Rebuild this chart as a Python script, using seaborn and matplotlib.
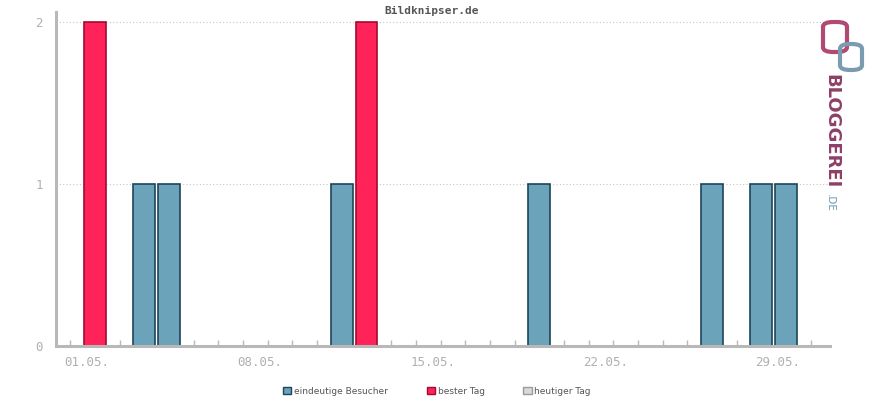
import matplotlib
matplotlib.use("Agg")
import matplotlib.pyplot as plt
import matplotlib.transforms as mtransforms
from matplotlib.patches import Patch, FancyBboxPatch
import seaborn as sns
import pandas as pd

# Daten (Mai)
tage = [1, 3, 4, 11, 12, 19, 26, 28, 29]
besucher = [2, 1, 1, 1, 2, 1, 1, 1, 1]
reihe = ["bester Tag", "eindeutige Besucher", "eindeutige Besucher", "eindeutige Besucher",
         "bester Tag", "eindeutige Besucher", "eindeutige Besucher", "eindeutige Besucher",
         "eindeutige Besucher"]
tick_tage = [1, 8, 15, 22, 29]
tick_labels = ["01.05.", "08.05.", "15.05.", "22.05.", "29.05."]
legende = ["eindeutige Besucher", "bester Tag", "heutiger Tag"]

farben = {"eindeutige Besucher": "#6aa3ba", "bester Tag": "#ff2359", "heutiger Tag": "#d9d9d9"}
kanten = {"eindeutige Besucher": "#1d4559", "bester Tag": "#a30a2e", "heutiger Tag": "#9a9a9a"}

df = pd.DataFrame({"Tag": tage, "Besucher": besucher, "Reihe": reihe})

sns.set_style("white")
plt.rcParams["font.family"] = ["DejaVu Sans Mono", "DejaVu Sans"]

fig = plt.figure(figsize=(8.7, 4), dpi=100)
ax = fig.add_axes([56 / 870, 54 / 400, (830 - 56) / 870, (346 - 12) / 400])

sns.barplot(data=df, x="Tag", y="Besucher", hue="Reihe", palette=farben,
            native_scale=True, dodge=False, width=0.89, ax=ax, legend=False,
            saturation=1)
for bar in ax.patches:
    fc = matplotlib.colors.to_hex(bar.get_facecolor())
    for name, col in farben.items():
        if fc == col:
            bar.set_edgecolor(kanten[name])
    bar.set_linewidth(1.2)

ax.set_xlim(-0.58, 30.78)
ax.set_ylim(0, 2.06)
ax.set_xlabel("")
ax.set_ylabel("")

for s in ["top", "right"]:
    ax.spines[s].set_visible(False)
for s in ["left", "bottom"]:
    ax.spines[s].set_color("#b8b8b8")
    ax.spines[s].set_linewidth(2.2)

ax.set_yticks([0, 1, 2])
ax.set_yticklabels(["0", "1", "2"])
for y in [1, 2]:
    ax.axhline(y, color="#c4c4c4", linestyle=(0, (1, 2)), linewidth=0.8, zorder=0)

ax.set_xticks(tick_tage)
ax.set_xticklabels(tick_labels)
ax.set_xticks(range(0, 31), minor=True)
ax.tick_params(bottom=True, which="both")
ax.tick_params(axis="x", which="minor", direction="in", length=4.5, color="#b8b8b8", width=1)
ax.tick_params(axis="x", which="major", direction="in", length=4.5, color="#b8b8b8", width=1,
               labelsize=9, labelcolor="#b0b0b0", pad=7)
ax.tick_params(axis="y", which="major", left=False, labelsize=9, labelcolor="#b0b0b0", pad=6)
verschiebung = mtransforms.ScaledTranslation(-8 / 100, 0, fig.dpi_scale_trans)
for lbl in ax.get_xticklabels():
    lbl.set_transform(lbl.get_transform() + verschiebung)

fig.text(432 / 870, 1 - 11 / 400, "Bildknipser.de", ha="center", va="center",
         fontsize=8, fontweight="bold", color="#555555")

# Logo rechts
fig.patches.append(FancyBboxPatch((823 / 870, 1 - 52 / 400), 24 / 870, 30 / 400,
                                  boxstyle="round,pad=0,rounding_size=0.012",
                                  transform=fig.transFigure, fill=False,
                                  edgecolor="#b04a72", linewidth=3))
fig.patches.append(FancyBboxPatch((840 / 870, 1 - 70 / 400), 22 / 870, 26 / 400,
                                  boxstyle="round,pad=0,rounding_size=0.012",
                                  transform=fig.transFigure, fill=False,
                                  edgecolor="#7a9bb0", linewidth=3))
fig.text(831 / 870, 1 - 131 / 400, "BLOGGEREI", rotation=-90, ha="center", va="center",
         fontsize=13, fontweight="bold", color="#8e3f66", family=["DejaVu Sans"])
fig.text(830 / 870, 1 - 203 / 400, ".DE", rotation=-90, ha="center", va="center",
         fontsize=7.5, color="#6a9ab5", family=["DejaVu Sans"])

handles = [Patch(facecolor=farben[n], edgecolor=kanten[n], label=n) for n in legende]
fig.legend(handles=handles, loc="center", bbox_to_anchor=(437 / 870, 1 - 391 / 400),
           ncol=3, frameon=False, handlelength=0.9, handleheight=0.9, columnspacing=4.3,
           handletextpad=0.3, prop={"family": "DejaVu Sans", "size": 6.5}, labelcolor="#555555")

fig.savefig("out.png", dpi=100)
